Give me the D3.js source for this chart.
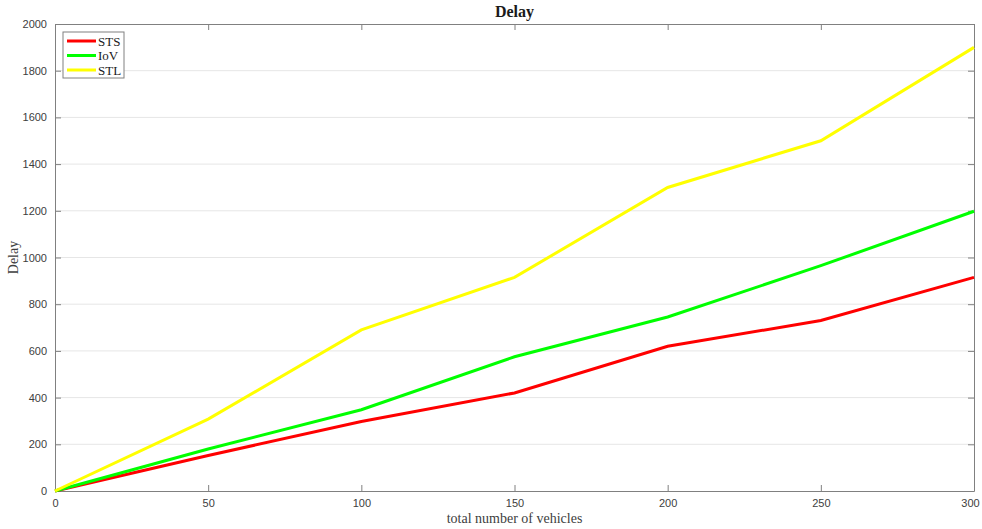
<!DOCTYPE html>
<html>
<head>
<meta charset="utf-8">
<script src="https://cdn.jsdelivr.net/npm/d3@7"></script>
<style>
  body { margin: 0; background: #fff; }
  .tick text { font-family: "Liberation Sans", Arial, sans-serif; font-size: 11px; fill: #404040; }
</style>
</head>
<body>
<div id="chart"></div>
<script>
const vehicles = [0, 50, 100, 150, 200, 250, 300];
const stsDelay = [0, 152, 298, 420, 620, 730, 915];
const iovDelay = [0, 180, 348, 575, 745, 965, 1198];
const stlDelay = [0, 308, 690, 915, 1300, 1500, 1900];
const seriesNames = ["STS", "IoV", "STL"];
const seriesColors = ["#ff0000", "#00ff00", "#ffff00"];
const yTicks = [0, 200, 400, 600, 800, 1000, 1200, 1400, 1600, 1800, 2000];
const xTicks = [0, 50, 100, 150, 200, 250, 300];

const W = 982, H = 529;
const margin = { top: 24, right: 8, bottom: 38, left: 55 },
  width = W - margin.left - margin.right,
  height = H - margin.top - margin.bottom;

const svg = d3.select("#chart").append("svg")
  .attr("width", W).attr("height", H)
  .append("g")
  .attr("transform", "translate(" + margin.left + "," + margin.top + ")");

const x = d3.scaleLinear().domain([0, 300]).range([0, width]);
const y = d3.scaleLinear().domain([0, 2000]).range([height, 0]);

// horizontal grid
svg.append("g")
  .selectAll("line")
  .data(yTicks.slice(1, -1))
  .enter().append("line")
  .attr("x1", 0).attr("x2", width)
  .attr("y1", d => y(d)).attr("y2", d => y(d))
  .attr("stroke", "#e6e6e6").attr("stroke-width", 1);

// axes with inward ticks
const axisColor = "#808080";
function styleAxis(g) {
  g.select(".domain").attr("stroke", axisColor);
  g.selectAll(".tick line").attr("stroke", axisColor);
}
const xAxisG = svg.append("g").attr("transform", "translate(0," + height + ")")
  .call(d3.axisBottom(x).tickValues(xTicks).tickFormat(d3.format("d")).tickSizeInner(-6).tickSizeOuter(0).tickPadding(8))
  .call(styleAxis);
// last label sits at the window edge, nudge it in
xAxisG.selectAll(".tick text").filter(d => d === 300).attr("dx", "-4");

svg.append("g")
  .call(d3.axisTop(x).tickValues(xTicks).tickSizeInner(-6).tickSizeOuter(0).tickFormat(""))
  .call(styleAxis);
svg.append("g")
  .call(d3.axisLeft(y).tickValues(yTicks).tickFormat(d3.format("d")).tickSizeInner(-6).tickSizeOuter(0).tickPadding(8))
  .call(styleAxis);
svg.append("g").attr("transform", "translate(" + width + ",0)")
  .call(d3.axisRight(y).tickValues(yTicks).tickSizeInner(-6).tickSizeOuter(0).tickFormat(""))
  .call(styleAxis);

// lines
const allSeries = [stsDelay, iovDelay, stlDelay];
const line = d3.line().x((d, i) => x(vehicles[i])).y(d => y(d));
allSeries.forEach((s, k) => {
  svg.append("path")
    .datum(s)
    .attr("fill", "none")
    .attr("stroke", seriesColors[k])
    .attr("stroke-width", 3)
    .attr("d", line);
});

// title and labels
svg.append("text")
  .attr("x", width / 2).attr("y", -7)
  .attr("text-anchor", "middle")
  .style("font-family", "'Liberation Serif', 'Times New Roman', serif")
  .style("font-size", "16px").style("font-weight", "bold")
  .attr("fill", "#1a1a1a")
  .text("Delay");

svg.append("text")
  .attr("x", width / 2).attr("y", height + 32)
  .attr("text-anchor", "middle")
  .style("font-family", "'Liberation Serif', 'Times New Roman', serif")
  .style("font-size", "14px")
  .attr("fill", "#404040")
  .text("total number of vehicles");

svg.append("text")
  .attr("transform", "rotate(-90)")
  .attr("x", -height / 2).attr("y", -37)
  .attr("text-anchor", "middle")
  .style("font-family", "'Liberation Serif', 'Times New Roman', serif")
  .style("font-size", "14px")
  .attr("fill", "#404040")
  .text("Delay");

// legend
const legend = svg.append("g").attr("transform", "translate(8,8)");
legend.append("rect")
  .attr("width", 61).attr("height", 46)
  .attr("fill", "#fff").attr("stroke", "#808080").attr("stroke-width", 1);
seriesNames.forEach((name, k) => {
  const ly = 9 + k * 14.5;
  legend.append("line")
    .attr("x1", 4).attr("x2", 33).attr("y1", ly).attr("y2", ly)
    .attr("stroke", seriesColors[k]).attr("stroke-width", 3);
  legend.append("text")
    .attr("x", 35).attr("y", ly + 4.5)
    .style("font-family", "'Liberation Serif', 'Times New Roman', serif")
    .style("font-size", "13px")
    .attr("fill", "#1a1a1a")
    .text(name);
});
</script>
</body>
</html>
